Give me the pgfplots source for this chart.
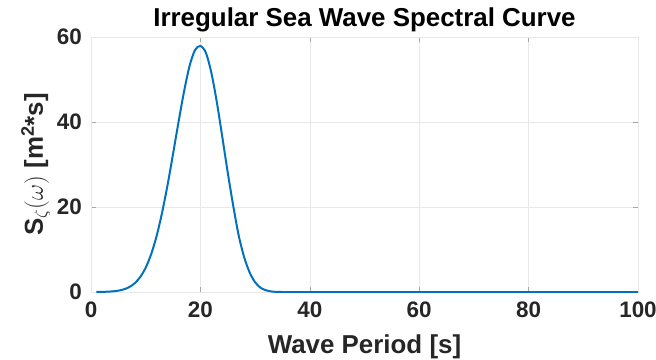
\documentclass[border=0pt]{standalone}
\usepackage{fontspec}
\setmainfont{Liberation Sans}
\usepackage{pgfplots}
\pgfplotsset{compat=1.18}
\definecolor{mblue}{RGB}{0,114,189}
\definecolor{mtext}{RGB}{38,38,38}
\begin{document}
\begin{tikzpicture}
\begin{axis}[
  scale only axis,
  width=547bp, height=255bp,
  xmin=0, xmax=100, ymin=0, ymax=60,
  xtick={0,20,40,60,80,100},
  ytick={0,20,40,60},
  grid=major,
  grid style={gray!18, line width=0.5pt},
  axis line style={gray!18},
  tick style={gray!70, line width=0.6pt},
  major tick length=5bp,
  tick align=inside,
  /pgf/number format/assume math mode=true,
  ticklabel style={font=\fontsize{22.5}{22.5}\selectfont\bfseries, text=mtext},
  xticklabel style={anchor=north, inner sep=0pt, yshift=-10bp},
  yticklabel style={anchor=east, inner sep=0pt, xshift=-9bp},
  title={Irregular Sea Wave Spectral Curve},
  title style={at={(axis description cs:0.5,1)}, anchor=base, yshift=5bp, font=\fontsize{26}{26}\selectfont\bfseries, text=black},
  xlabel={Wave Period [s]},
  every axis x label/.style={at={(axis description cs:0.5,0)}, anchor=base, yshift=-61bp, font=\fontsize{26}{26}\selectfont\bfseries, text=mtext},
  ylabel={S$_{\zeta}$$(\omega)$ [m$^{\mathbf{2}}$*s]},
  every axis y label/.style={at={(axis description cs:-0.0878,0.5)}, rotate=90, anchor=base, font=\fontsize{26}{26}\selectfont\bfseries, text=mtext},
]
\addplot[mblue, line width=2pt, smooth] coordinates {
(1,0.01) (2,0.03) (3,0.07) (4,0.16) (5,0.32) (6,0.62) (7,1.16) (8,2.07)
(9,3.53) (10,5.73) (11,8.9) (12,13.2) (13,18.7) (14,25.2) (15,32.5)
(16,40.0) (17,47.1) (18,53.1) (19,56.9) (20,57.9)
(21,56.3) (22,51.6) (23,44.7) (24,36.5) (25,28.1) (26,20.3) (27,13.3)
(28,8.2) (29,4.6) (30,2.3) (31,1.0) (32,0.4) (33,0.12) (34,0.03) (35,0)
(40,0) (100,0)
};
\coordinate (SW) at (rel axis cs:0,0);
\coordinate (NE) at (rel axis cs:1,1);
\end{axis}
\pgfresetboundingbox
\path[use as bounding box] ([xshift=-91bp,yshift=-68bp]SW) rectangle ([xshift=18bp,yshift=37bp]NE);
\end{tikzpicture}
\end{document}
